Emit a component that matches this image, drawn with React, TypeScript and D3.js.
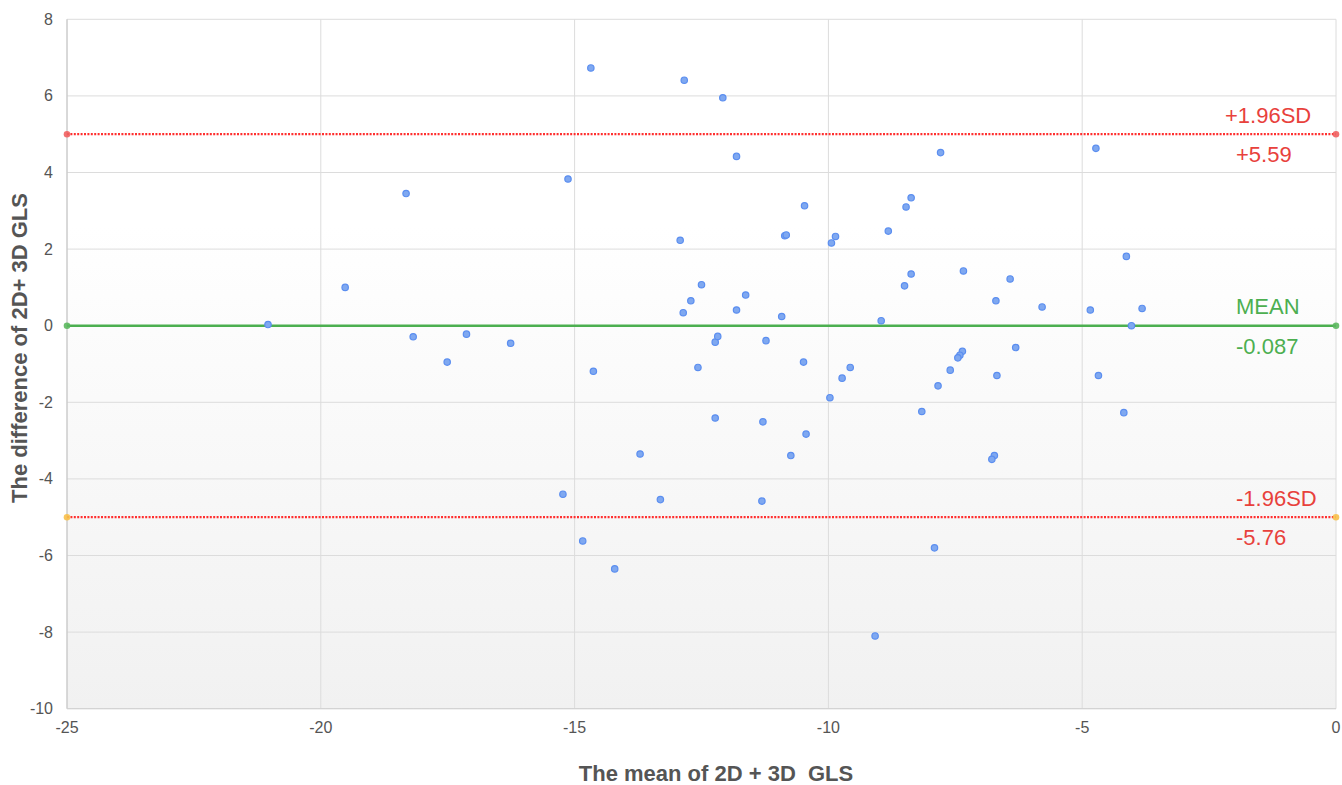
import React from "react";
import * as d3 from "d3";

// Bland–Altman data: mean of 2D+3D GLS (x) vs difference (y)
const meanValues: number[] = [
  -21.04, -19.52, -18.32, -18.18, -17.51, -17.13, -16.26, -15.13, -14.68, -14.63,
  -12.84, -12.92, -12.86, -12.71, -12.50, -12.57, -12.08, -12.23, -12.18, -11.81,
  -11.81, -11.63, -11.23, -10.92, -10.47, -10.86, -10.83, -10.49, -9.94, -9.86,
  -9.73, -9.57, -9.97, -8.96, -8.82, -8.47, -8.37, -7.79, -8.37, -8.50,
  -7.34, -6.42, -6.70, -5.79, -4.84, -4.13, -3.82, -4.03, -4.73, -7.36,
  -7.41, -7.45, -7.60, -7.84, -6.31, -6.68, -4.68, -12.23, -11.29, -10.44,
  -13.71, -10.74, -15.23, -13.31, -11.31, -14.84, -14.21, -9.08, -8.16, -4.18,
  -6.73, -6.78, -7.91,
];
const diffValues: number[] = [
  0.03, 1.0, 3.45, -0.29, -0.95, -0.22, -0.46, 3.83, 6.73, -1.19,
  6.41, 2.23, 0.34, 0.65, 1.07, -1.09, 5.95, -0.43, -0.28, 4.42,
  0.41, 0.80, -0.39, 0.24, 3.13, 2.35, 2.37, -0.95, 2.16, 2.33,
  -1.37, -1.09, -1.88, 0.13, 2.47, 3.10, 3.34, 4.52, 1.35, 1.04,
  1.43, 1.22, 0.65, 0.49, 0.41, 1.81, 0.45, 0.0, 4.63, -0.67,
  -0.77, -0.84, -1.16, -1.57, -0.57, -1.30, -1.30, -2.41, -2.51, -2.83,
  -3.35, -3.39, -4.40, -4.54, -4.58, -5.62, -6.35, -8.10, -2.24, -2.27,
  -3.39, -3.49, -5.80,
];

// Reference lines (drawn level) and their labels
const refLineNames = ["upper", "mean", "lower"];
const refLineLevels = [5.0, 0.0, -5.0];
const refLineTitles = ["+1.96SD", "MEAN", "-1.96SD"];
const refLineValueLabels = ["+5.59", "-0.087", "-5.76"];
const refLineXs = [-25, 0];

const xTicks = [-25, -20, -15, -10, -5, 0];
const yTicks = [-10, -8, -6, -4, -2, 0, 2, 4, 6, 8];

const W = 1342;
const H = 785;
const FONT = "'Liberation Sans', Arial, Helvetica, sans-serif";

export default function App() {
  const x = d3.scaleLinear().domain([-25, 0]).range([67, 1336]);
  const y = d3.scaleLinear().domain([-10, 8]).range([708.7, 19.3]);
  const [x0, x1] = x.range();
  const [yb, yt] = y.range();

  const line = d3
    .line<[number, number]>()
    .x((d) => x(d[0]))
    .y((d) => y(d[1]));

  const styles: Record<string, { stroke: string; dash?: string; width: number; marker: string; text: string }> = {
    upper: { stroke: "#ff2f2f", dash: "2 1.4", width: 2.3, marker: "#f06060", text: "#e8413c" },
    mean: { stroke: "#4caf50", width: 2.5, marker: "#5cb85f", text: "#4caf50" },
    lower: { stroke: "#ff2f2f", dash: "2 1.4", width: 2.3, marker: "#f7c04a", text: "#e8413c" },
  };

  const points = meanValues.map((m, i) => [m, diffValues[i]] as [number, number]);

  return (
    <svg
      width={W}
      height={H}
      style={{ position: "absolute", left: 0, top: 0, background: "#fff" }}
      fontFamily={FONT}
    >
      <defs>
        <linearGradient id="bg" x1="0" y1="0" x2="0" y2="1">
          <stop offset="0%" stopColor="#ffffff" />
          <stop offset="30%" stopColor="#ffffff" />
          <stop offset="100%" stopColor="#f1f1f1" />
        </linearGradient>
      </defs>
      <rect x={x0} y={yt} width={x1 - x0} height={yb - yt} fill="url(#bg)" />

      {/* grid */}
      {yTicks.map((t) => (
        <line key={"gy" + t} x1={x0} x2={x1} y1={y(t)} y2={y(t)} stroke="#dcdcdc" strokeWidth={1} />
      ))}
      {xTicks.map((t) => (
        <line key={"gx" + t} x1={x(t)} x2={x(t)} y1={yt} y2={yb} stroke="#dcdcdc" strokeWidth={1} />
      ))}
      <line x1={x0} x2={x0} y1={yt} y2={yb} stroke="#c4c4c4" strokeWidth={1} />
      <line x1={x0} x2={x1} y1={yb} y2={yb} stroke="#d0d0d0" strokeWidth={1} />

      {/* tick labels */}
      {yTicks.map((t) => (
        <text key={"ty" + t} x={53} y={y(t) + 5.5} textAnchor="end" fontSize={16} fill="#555">
          {t}
        </text>
      ))}
      {xTicks.map((t) => (
        <text key={"tx" + t} x={x(t)} y={733} textAnchor="middle" fontSize={16} fill="#555">
          {t}
        </text>
      ))}

      {/* reference lines */}
      {refLineNames.map((name, i) => {
        const s = styles[name];
        const pts = refLineXs.map((vx) => [vx, refLineLevels[i]] as [number, number]);
        return (
          <g key={name}>
            <path d={line(pts) || ""} fill="none" stroke={s.stroke} strokeWidth={s.width} strokeDasharray={s.dash} />
            {pts.map((p, j) => (
              <circle key={j} cx={x(p[0])} cy={y(p[1])} r={3.3} fill={s.marker} opacity={0.9} />
            ))}
          </g>
        );
      })}

      {/* points */}
      {points.map((p, i) => (
        <circle
          key={i}
          cx={x(p[0])}
          cy={y(p[1])}
          r={3.2}
          fill="#7fa8f0"
          stroke="#5b8ef0"
          strokeWidth={1.2}
        />
      ))}

      {/* reference labels */}
      {refLineNames.map((name, i) => {
        const s = styles[name];
        const ly = y(refLineLevels[i]);
        const titleX = name === "upper" ? 1225 : 1236;
        return (
          <g key={"lab" + name} fontSize={22} fill={s.text}>
            <text x={titleX} y={ly - 11.5}>
              {refLineTitles[i]}
            </text>
            <text x={1236} y={ly + 28}>
              {refLineValueLabels[i]}
            </text>
          </g>
        );
      })}

      {/* axis titles */}
      <text
        x={716}
        y={781}
        textAnchor="middle"
        fontSize={22}
        fontWeight="bold"
        fill="#555"
        style={{ whiteSpace: "pre" }}
      >
        {"The mean of 2D + 3D  GLS"}
      </text>
      <text
        transform={`translate(27,348) rotate(-90)`}
        textAnchor="middle"
        fontSize={22}
        fontWeight="bold"
        fill="#555"
      >
        The difference of 2D+ 3D GLS
      </text>
    </svg>
  );
}
